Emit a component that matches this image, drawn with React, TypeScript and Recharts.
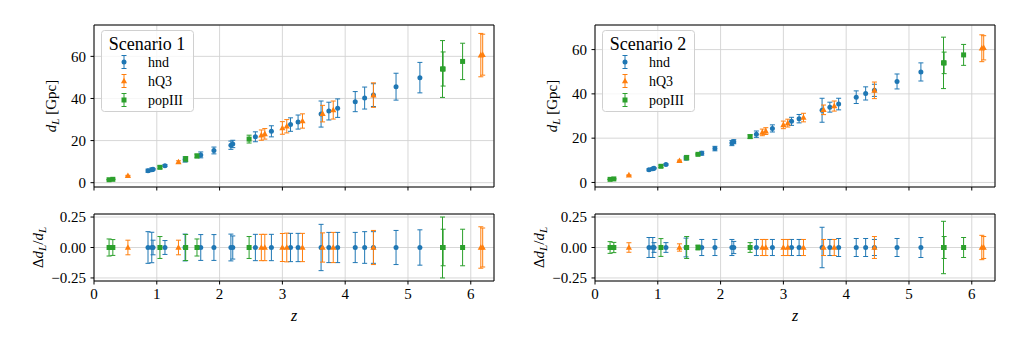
import React from "react";
import {
  ScatterChart,
  Scatter,
  XAxis,
  YAxis,
  CartesianGrid,
  ErrorBar,
  ReferenceArea,
  Legend,
} from "recharts";

const FONT = '"Liberation Serif", "DejaVu Serif", serif';
const BLUE = "#1f77b4";
const ORANGE = "#ff7f0e";
const GREEN = "#2ca02c";

// hnd events
const zHnd = [0.86, 0.92, 0.94, 1.13, 1.45, 1.7, 1.91, 2.18, 2.21, 2.57, 2.825, 3.13, 3.25, 3.616, 3.74, 3.88, 4.16, 4.31, 4.45, 4.81, 5.19];
const dlHnd = [5.7, 6.2, 6.4, 8.1, 11.0, 13.2, 15.3, 17.8, 18.4, 21.8, 24.4, 27.6, 28.8, 32.6, 34.0, 35.4, 38.5, 40.2, 41.6, 45.6, 49.9];
const relHnd1 = [0.13, 0.125, 0.06, 0.057, 0.11, 0.106, 0.106, 0.11, 0.095, 0.108, 0.108, 0.116, 0.116, 0.19, 0.124, 0.124, 0.124, 0.13, 0.13, 0.14, 0.145];
const relHnd2 = [0.082, 0.082, 0.04, 0.04, 0.077, 0.066, 0.066, 0.066, 0.05, 0.066, 0.066, 0.066, 0.066, 0.166, 0.066, 0.074, 0.074, 0.074, 0.066, 0.074, 0.082];

// hQ3 events
const zHq3 = [0.54, 1.345, 2.665, 2.72, 3.0, 3.07, 3.32, 3.64, 3.81, 4.45, 6.16, 6.19];
const dlHq3 = [3.3, 9.8, 22.6, 23.2, 26.0, 26.8, 29.3, 32.8, 34.5, 41.6, 60.6, 60.8];
const relHq31 = [0.06, 0.06, 0.108, 0.108, 0.115, 0.118, 0.116, 0.12, 0.124, 0.14, 0.17, 0.16];
const relHq32 = [0.039, 0.03, 0.066, 0.066, 0.066, 0.066, 0.066, 0.066, 0.066, 0.09, 0.1, 0.09];

// popIII events
const zPop = [0.24, 0.3, 1.05, 1.46, 1.64, 2.47, 5.55, 5.56, 5.87];
const dlPop = [1.4, 1.6, 7.3, 11.2, 12.7, 20.7, 54.0, 54.0, 57.6];
const relPop1 = [0.07, 0.065, 0.09, 0.107, 0.07, 0.09, 0.25, 0.15, 0.15];
const relPop2 = [0.048, 0.042, 0.073, 0.09, 0.02, 0.04, 0.215, 0.09, 0.082];

const zTicks = [0, 1, 2, 3, 4, 5, 6];
const dlTicks = [0, 20, 40, 60];
const resTicks = [-0.25, 0, 0.25];

const series = [
  { name: "hnd", color: BLUE, kind: "circle", z: zHnd, dl: dlHnd, rel: [relHnd1, relHnd2] },
  { name: "hQ3", color: ORANGE, kind: "triangle", z: zHq3, dl: dlHq3, rel: [relHq31, relHq32] },
  { name: "popIII", color: GREEN, kind: "square", z: zPop, dl: dlPop, rel: [relPop1, relPop2] },
];

const buildRows = (s: any, scen: number, resid: boolean) =>
  s.z.map((z: number, i: number) => ({
    z,
    y: resid ? 0 : s.dl[i],
    err: resid ? s.rel[scen][i] : s.rel[scen][i] * s.dl[i],
  }));

const Marker = ({ kind, cx, cy, color }: any) => {
  if (kind === "circle") return <circle cx={cx} cy={cy} r={2.5} fill={color} />;
  if (kind === "square") return <rect x={cx - 2.5} y={cy - 2.5} width={5} height={5} fill={color} />;
  return <polygon points={`${cx},${cy - 3.3} ${cx - 3.1},${cy + 2.3} ${cx + 3.1},${cy + 2.3}`} fill={color} />;
};

const tickStyle = { fill: "#000", fontSize: 15, fontFamily: FONT };

const dlLabel = (props: any) => {
  const vb = props.viewBox;
  const x = vb.x + 56;
  const y = vb.y + vb.height / 2;
  return (
    <text x={x} y={y} transform={`rotate(-90 ${x} ${y})`} textAnchor="middle" fontFamily={FONT} fontSize={15} fill="#000">
      <tspan fontStyle="italic">d</tspan>
      <tspan fontStyle="italic" fontSize={11} dy={3}>L</tspan>
      <tspan dy={-3}> [Gpc]</tspan>
    </text>
  );
};

const resLabel = (props: any) => {
  const vb = props.viewBox;
  const x = vb.x + 43;
  const y = vb.y + vb.height / 2;
  return (
    <text x={x} y={y} transform={`rotate(-90 ${x} ${y})`} textAnchor="middle" fontFamily={FONT} fontSize={15} fill="#000">
      <tspan>Δ</tspan>
      <tspan fontStyle="italic">d</tspan>
      <tspan fontStyle="italic" fontSize={11} dy={3}>L</tspan>
      <tspan dy={-3}>/</tspan>
      <tspan fontStyle="italic">d</tspan>
      <tspan fontStyle="italic" fontSize={11} dy={3}>L</tspan>
    </text>
  );
};

const zLabel = (props: any) => {
  const vb = props.viewBox;
  return (
    <text x={vb.x + vb.width / 2} y={vb.y + 40} textAnchor="middle" fontFamily={FONT} fontSize={16} fontStyle="italic" fill="#000">
      z
    </text>
  );
};

const LegendBox = ({ title }: { title: string }) => (
  <svg width={93} height={82} style={{ display: "block" }}>
    <rect x={0.5} y={0.5} width={92} height={81} rx={3} fill="rgba(255,255,255,0.8)" stroke="#d0d0d0" />
    <text x={46} y={20} textAnchor="middle" fontFamily={FONT} fontSize={18} fill="#000">
      {title}
    </text>
    {series.map((s, i) => {
      const cy = 32 + i * 19;
      return (
        <g key={s.name}>
          <line x1={23} x2={23} y1={cy - 6.5} y2={cy + 6.5} stroke={s.color} strokeWidth={1} />
          <line x1={20.5} x2={25.5} y1={cy - 6.5} y2={cy - 6.5} stroke={s.color} strokeWidth={1} />
          <line x1={20.5} x2={25.5} y1={cy + 6.5} y2={cy + 6.5} stroke={s.color} strokeWidth={1} />
          <Marker kind={s.kind} cx={23} cy={cy} color={s.color} />
          <text x={47} y={cy + 4.5} fontFamily={FONT} fontSize={14} fill="#000">
            {s.name}
          </text>
        </g>
      );
    })}
  </svg>
);

const TopPanel = ({ scen, left, yMax }: { scen: number; left: number; yMax: number }) => (
  <div style={{ position: "absolute", left, top: 0 }}>
    <ScatterChart width={510} height={195} margin={{ top: 25, right: 16, bottom: 0, left: 0 }}>
      <CartesianGrid stroke="#d3d3d3" strokeWidth={0.9} />
      <XAxis
        type="number"
        dataKey="z"
        domain={[0, 6.37]}
        ticks={zTicks}
        allowDataOverflow
        height={8}
        tickSize={3.5}
        axisLine={false}
        tickLine={{ stroke: "#000" }}
        tickFormatter={() => ""}
      />
      <YAxis
        type="number"
        dataKey="y"
        domain={[-2.05, yMax]}
        ticks={dlTicks}
        allowDataOverflow
        width={94}
        tickSize={3.5}
        tickMargin={4.5}
        axisLine={false}
        tickLine={{ stroke: "#000" }}
        tick={tickStyle}
        label={dlLabel}
      />
      {series.map((s) => (
        <Scatter
          key={s.name}
          name={s.name}
          data={buildRows(s, scen, false)}
          fill={s.color}
          isAnimationActive={false}
          shape={(p: any) => <Marker kind={s.kind} cx={p.cx} cy={p.cy} color={s.color} />}
        >
          <ErrorBar dataKey="err" direction="y" width={2.5} stroke={s.color} strokeWidth={1} />
        </Scatter>
      ))}
      <ReferenceArea x1={0} x2={6.37} y1={-2.05} y2={yMax} fill="none" stroke="#000" strokeWidth={1} />
      <Legend
        layout="horizontal"
        verticalAlign="middle"
        align="center"
        wrapperStyle={{ left: 101, top: 30, width: 93, height: 82 }}
        content={() => <LegendBox title={`Scenario ${scen + 1}`} />}
      />
    </ScatterChart>
  </div>
);

const BottomPanel = ({ scen, left }: { scen: number; left: number }) => (
  <div style={{ position: "absolute", left, top: 200 }}>
    <ScatterChart width={510} height={140} margin={{ top: 14, right: 16, bottom: 0, left: 0 }}>
      <CartesianGrid stroke="#d3d3d3" strokeWidth={0.9} />
      <XAxis
        type="number"
        dataKey="z"
        domain={[0, 6.37]}
        ticks={zTicks}
        allowDataOverflow
        height={59}
        tickSize={3.5}
        tickMargin={4}
        axisLine={false}
        tickLine={{ stroke: "#000" }}
        tick={tickStyle}
        label={zLabel}
      />
      <YAxis
        type="number"
        dataKey="y"
        domain={[-0.275, 0.275]}
        ticks={resTicks}
        allowDataOverflow
        width={94}
        tickSize={3.5}
        tickMargin={4.5}
        axisLine={false}
        tickLine={{ stroke: "#000" }}
        tick={tickStyle}
        tickFormatter={(v: number) => (v < 0 ? "−" : "") + Math.abs(v).toFixed(2)}
        label={resLabel}
      />
      {series.map((s) => (
        <Scatter
          key={s.name}
          name={s.name}
          data={buildRows(s, scen, true)}
          fill={s.color}
          isAnimationActive={false}
          shape={(p: any) => <Marker kind={s.kind} cx={p.cx} cy={p.cy} color={s.color} />}
        >
          <ErrorBar dataKey="err" direction="y" width={2.5} stroke={s.color} strokeWidth={1} />
        </Scatter>
      ))}
      <ReferenceArea x1={0} x2={6.37} y1={-0.275} y2={0.275} fill="none" stroke="#000" strokeWidth={1} />
    </ScatterChart>
  </div>
);

export default function App() {
  return (
    <div style={{ position: "absolute", left: 0, top: 0, width: 1019, height: 340, background: "#fff" }}>
      <TopPanel scen={0} left={0} yMax={74.9} />
      <TopPanel scen={1} left={501} yMax={71.1} />
      <BottomPanel scen={0} left={0} />
      <BottomPanel scen={1} left={501} />
    </div>
  );
}
